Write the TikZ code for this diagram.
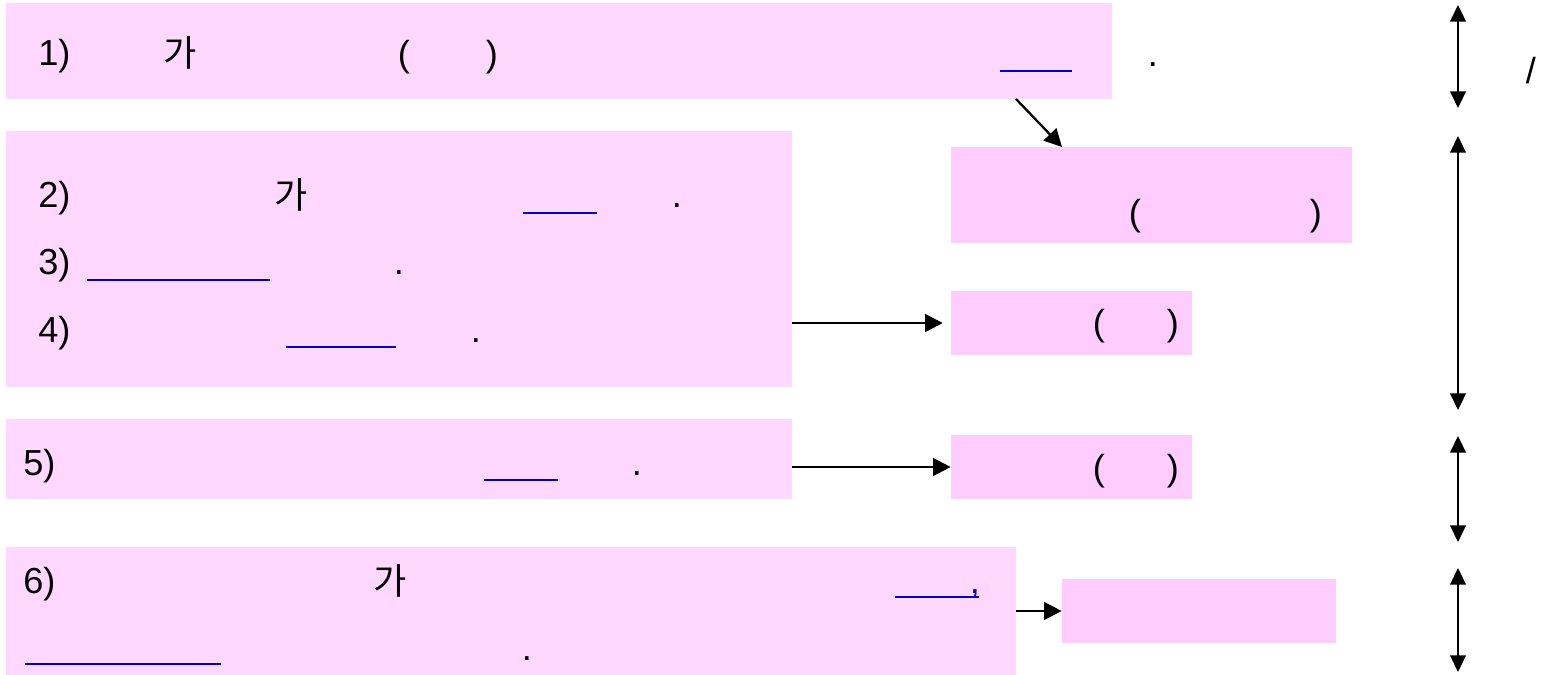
\documentclass[tikz,border=0pt]{standalone}
\usepackage{fontspec}
\setmainfont{Liberation Sans}
\newfontfamily\cjkfont{Noto Sans CJK KR}
\usepackage{xcolor}
\usetikzlibrary{arrows.meta}

\definecolor{boxpink}{RGB}{255,215,255}
\definecolor{notepink}{RGB}{255,204,255}
\definecolor{lineblue}{RGB}{0,0,204}

\begin{document}
\begin{tikzpicture}[x = 0.02cm, y = -0.02cm,
    every node/.style = {font = \fontsize{20.6pt}{24pt}\selectfont, inner sep = 0pt},
    rowbox/.style = {fill = boxpink, draw = none},
    notebox/.style = {fill = notepink, draw = none},
    blankline/.style = {lineblue, line width = 1.6pt},
    flow/.style = {line width = 1.3pt, -{Triangle[length = 10pt, width = 10pt]}},
    span/.style = {line width = 1pt, {Triangle[length = 9.5pt, width = 9pt]}-{Triangle[length = 9.5pt, width = 9pt]}}]
    \useasboundingbox (0, 0) rectangle (1541, 675);

    % Boxes
    \node[rowbox, minimum width = 22.12cm, minimum height = 1.92cm] (row1) at (559, 51) {};
    %
    \node[rowbox, minimum width = 15.72cm, minimum height = 5.12cm] (row24) at (399, 259) {};
    %
    \node[rowbox, minimum width = 15.72cm, minimum height = 1.60cm] (row5) at (399, 459) {};
    %
    \node[rowbox, minimum width = 20.20cm, minimum height = 2.56cm] (row6) at (511, 611) {};

    \node[notebox, minimum width = 8.02cm, minimum height = 1.92cm] (noteA) at (1151.5, 195) {};
    %
    \node[notebox, minimum width = 4.82cm, minimum height = 1.28cm] (noteB) at (1071.5, 323) {};
    %
    \node[notebox, minimum width = 4.82cm, minimum height = 1.28cm] (noteC) at (1071.5, 467) {};
    %
    \node[notebox, minimum width = 5.48cm, minimum height = 1.28cm] (noteD) at (1199, 611) {};

    % Row 1
    \node[anchor = base west] (num1) at (38, 66) {1)};
    \node[anchor = base] (ga1) at (180, 67) {\cjkfont 가};
    \node[anchor = base] (lp1) at (404, 67) {(};
    \node[anchor = base] (rp1) at (492, 67) {)};
    \node[anchor = base] (dot1) at (1153, 67) {.};
    \draw[blankline] (1000, 71) -- (1072, 71);

    % Rows 2 - 4
    \node[anchor = base west] (num2) at (38, 208) {2)};
    \node[anchor = base] (ga2) at (291, 209) {\cjkfont 가};
    \node[anchor = base] (dot2) at (677, 208) {.};
    \draw[blankline] (523, 213) -- (597, 213);
    %
    \node[anchor = base west] (num3) at (38, 275) {3)};
    \node[anchor = base] (dot3) at (399, 275) {.};
    \draw[blankline] (87, 280) -- (270, 280);
    %
    \node[anchor = base west] (num4) at (38, 343) {4)};
    \node[anchor = base] (dot4) at (476, 343) {.};
    \draw[blankline] (286, 347) -- (396, 347);

    % Row 5
    \node[anchor = base west] (num5) at (23, 475) {5)};
    \node[anchor = base] (dot5) at (637, 475) {.};
    \draw[blankline] (484, 480) -- (558, 480);

    % Row 6
    \node[anchor = base west] (num6) at (23, 593) {6)};
    \node[anchor = base] (ga6) at (390, 594) {\cjkfont 가};
    \draw[blankline] (895, 597) -- (979, 597);
    \node[anchor = base, text = lineblue] (comma6) at (975, 593) {,};
    \node[anchor = base] (dot6) at (527, 660) {.};
    \draw[blankline] (25, 664) -- (221, 664);

    % Notes
    \node[anchor = base] (lpA) at (1135, 226) {(};
    \node[anchor = base] (rpA) at (1316, 226) {)};
    %
    \node[anchor = base] (lpB) at (1099, 336) {(};
    \node[anchor = base] (rpB) at (1173, 336) {)};
    %
    \node[anchor = base] (lpC) at (1099, 480) {(};
    \node[anchor = base] (rpC) at (1173, 480) {)};

    \node[anchor = base] (slash) at (1531, 84) {/};

    % Arrows
    \coordinate (diagstart) at (1016, 99);
    \coordinate (diagend) at (1062, 147);
    \draw[flow] (diagstart) -- (diagend);
    %
    \draw[flow, shorten > = 4.5pt] (row24.east |- noteB.west) -- (noteB.west);
    %
    \draw[flow] (row5.east |- noteC.west) -- (noteC.west);
    %
    \draw[flow] (row6.east |- noteD.west) -- (noteD.west);

    \foreach \ya/\yb [count = \i] in {5/108, 136/410, 436/542, 568/672}
    {
        \coordinate (top\i) at (1458, \ya);
        \coordinate (bot\i) at (1458, \yb);
        \draw[span] (top\i) -- (bot\i);
    }
\end{tikzpicture}
\end{document}
